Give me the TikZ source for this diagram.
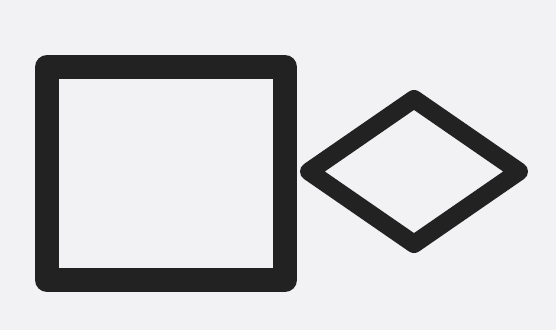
\documentclass[tikz,border=0pt]{standalone}
\usetikzlibrary{shapes.geometric}
\definecolor{paper}{HTML}{F2F2F4}
\definecolor{crayon}{HTML}{222222}
\tikzset{
  sketch/.style={draw=crayon, line join=round, inner sep=0pt, outer sep=0pt},
  boxshape/.style={sketch, rectangle, line width=24pt,
    minimum width=238pt, minimum height=213pt},
  kiteshape/.style={sketch, diamond, line width=18pt,
    minimum width=210pt, minimum height=145pt},
}
\begin{document}
\begin{tikzpicture}[x=1pt,y=1pt]
  \fill[paper] (0,0) rectangle (556,330);
  \useasboundingbox (0,0) rectangle (556,330);
  % square on the left, diamond touching it on the right
  \node[boxshape] (square) at (166,156.5) {};
  \node[kiteshape] (kite) at (414,158.5) {};
\end{tikzpicture}
\end{document}
